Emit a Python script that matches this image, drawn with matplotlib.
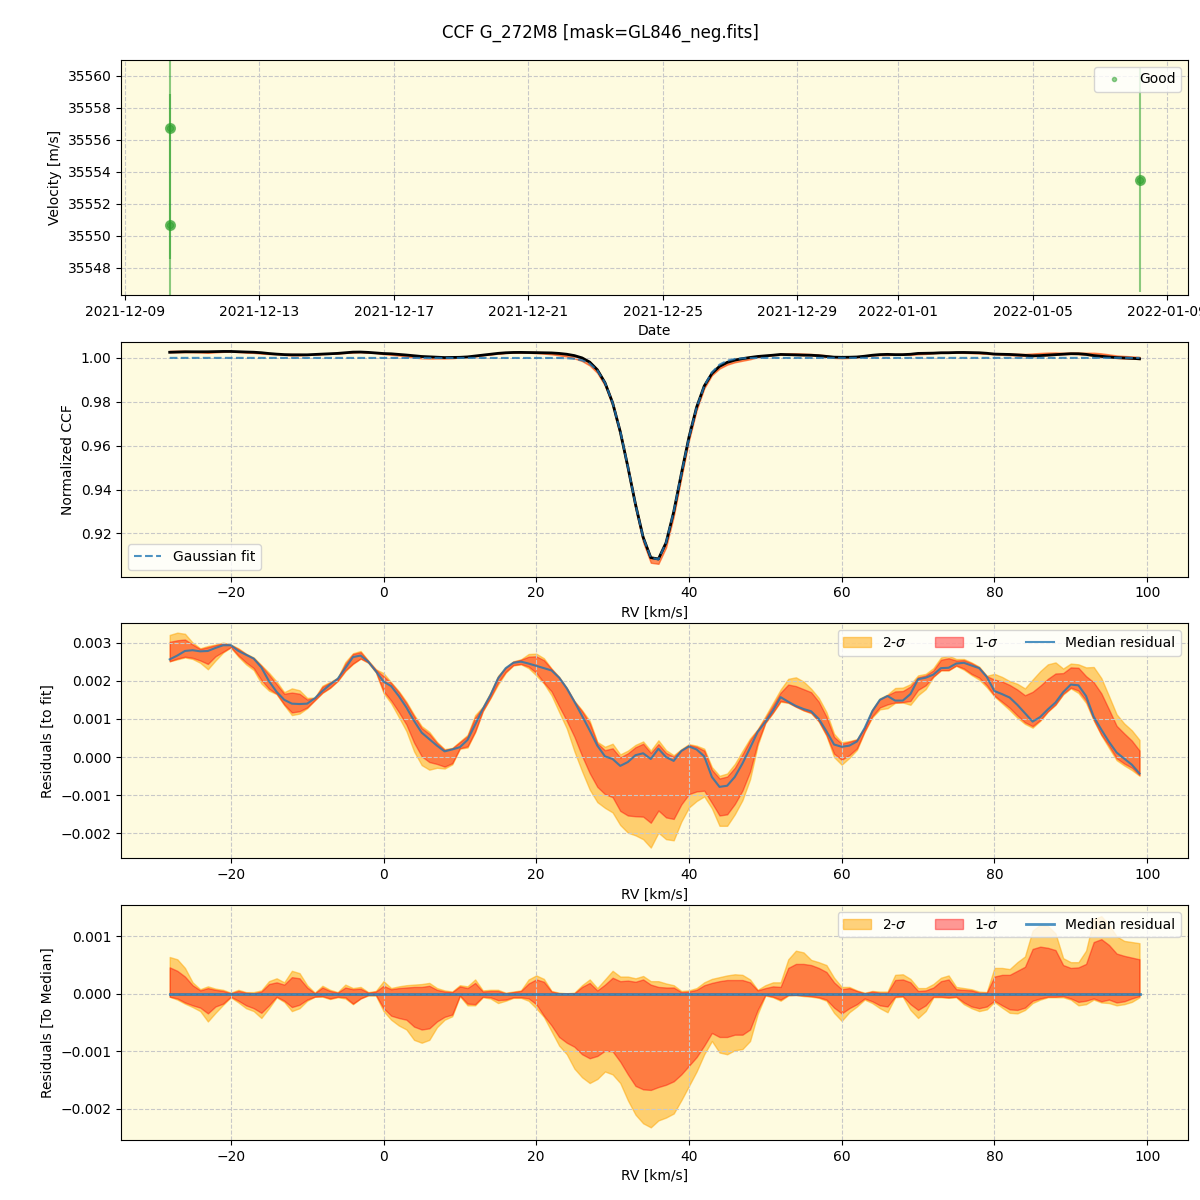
import numpy as np
import pandas as pd
import matplotlib
matplotlib.use('Agg')
import matplotlib.pyplot as plt
import matplotlib.dates as mdates

# --- top panel: RV time series
obs_dates = pd.to_datetime(['2021-12-10 08:10', '2021-12-10 08:10', '2022-01-08 04:20'])
obs_rv = [35556.75, 35550.65, 35553.5]
obs_err = [8.2, 8.2, 7.0]

# --- CCF grid and gaussian fit
rv = np.arange(-28, 100, 1.0)
fit_c, fit_depth, fit_mu, fit_sig = 0.99995, 0.0925, 35.6, 3.22

# median residual to fit (x1e-3), one value per km/s from -28 to 99
median_res = np.array([
    2.56, 2.66, 2.78, 2.80, 2.77, 2.78, 2.86, 2.93, 2.93, 2.78,
    2.68, 2.58, 2.35, 1.99, 1.71, 1.50, 1.40, 1.39, 1.40, 1.54,
    1.73, 1.90, 2.05, 2.33, 2.62, 2.66, 2.50, 2.25, 1.98, 1.86,
    1.60, 1.30, 0.95, 0.64, 0.47, 0.30, 0.15, 0.20, 0.26, 0.45,
    0.85, 1.26, 1.62, 2.06, 2.33, 2.47, 2.50, 2.45, 2.39, 2.33,
    2.27, 2.08, 1.80, 1.45, 1.08, 0.70, 0.30, 0.02, -0.05, -0.23,
    -0.13, 0.05, 0.10, -0.05, 0.22, 0.00, -0.10, 0.16, 0.28, 0.20,
    0.02, -0.52, -0.78, -0.75, -0.52, -0.17, 0.24, 0.66, 0.92, 1.22,
    1.57, 1.45, 1.34, 1.26, 1.20, 1.00, 0.68, 0.33, 0.27, 0.30,
    0.41, 0.76, 1.20, 1.50, 1.60, 1.48, 1.48, 1.65, 2.04, 2.08,
    2.16, 2.33, 2.34, 2.45, 2.47, 2.40, 2.33, 2.10, 1.73, 1.65,
    1.56, 1.37, 1.15, 0.93, 1.05, 1.25, 1.43, 1.70, 1.90, 1.88,
    1.60, 1.06, 0.72, 0.40, 0.12, -0.04, -0.20, -0.43]) * 1e-3

# band offsets relative to the median (x1e-3)
up2 = np.array([
    0.64, 0.60, 0.45, 0.20, 0.08, 0.13, 0.09, 0.07, 0.02, 0.07,
    0.03, 0.03, 0.06, 0.22, 0.27, 0.20, 0.40, 0.36, 0.15, 0.02,
    0.14, 0.07, 0.03, 0.16, 0.10, 0.12, 0.03, 0.05, 0.22, 0.10,
    0.13, 0.15, 0.16, 0.17, 0.19, 0.10, 0.06, 0.04, 0.15, 0.13,
    0.25, 0.06, 0.07, 0.07, 0.02, 0.04, 0.06, 0.25, 0.32, 0.26,
    0.05, 0.02, 0.01, 0.02, 0.15, 0.25, 0.10, 0.25, 0.40, 0.30,
    0.30, 0.27, 0.31, 0.22, 0.22, 0.18, 0.15, 0.05, 0.06, 0.10,
    0.20, 0.26, 0.29, 0.32, 0.34, 0.33, 0.25, 0.07, 0.15, 0.20,
    0.20, 0.60, 0.75, 0.72, 0.59, 0.55, 0.50, 0.28, 0.12, 0.12,
    0.06, 0.02, 0.05, 0.04, 0.04, 0.33, 0.34, 0.26, 0.10, 0.10,
    0.17, 0.28, 0.32, 0.12, 0.10, 0.08, 0.04, 0.03, 0.45, 0.45,
    0.43, 0.55, 0.65, 1.10, 1.20, 1.18, 1.05, 0.62, 0.55, 0.55,
    0.75, 1.30, 1.35, 1.20, 1.00, 0.92, 0.90, 0.88]) * 1e-3
up1 = np.array([
    0.46, 0.40, 0.30, 0.15, 0.06, 0.10, 0.07, 0.05, 0.01, 0.05,
    0.02, 0.01, 0.04, 0.17, 0.20, 0.16, 0.29, 0.27, 0.11, 0.01,
    0.11, 0.05, 0.02, 0.11, 0.08, 0.09, 0.02, 0.04, 0.14, 0.08,
    0.10, 0.11, 0.12, 0.12, 0.14, 0.07, 0.04, 0.03, 0.13, 0.10,
    0.19, 0.04, 0.05, 0.05, 0.01, 0.03, 0.05, 0.18, 0.25, 0.21,
    0.04, 0.01, 0.01, 0.01, 0.12, 0.19, 0.06, 0.16, 0.28, 0.22,
    0.23, 0.21, 0.25, 0.16, 0.12, 0.11, 0.11, 0.03, 0.04, 0.07,
    0.15, 0.19, 0.22, 0.24, 0.24, 0.24, 0.20, 0.06, 0.10, 0.13,
    0.12, 0.45, 0.52, 0.52, 0.50, 0.45, 0.38, 0.20, 0.08, 0.10,
    0.05, 0.01, 0.04, 0.02, 0.02, 0.24, 0.25, 0.20, 0.05, 0.06,
    0.11, 0.22, 0.25, 0.08, 0.07, 0.06, 0.02, 0.02, 0.30, 0.33,
    0.33, 0.40, 0.47, 0.78, 0.82, 0.80, 0.76, 0.50, 0.45, 0.46,
    0.52, 0.90, 0.95, 0.85, 0.70, 0.66, 0.63, 0.60]) * 1e-3
lo1 = np.array([
    -0.05, -0.08, -0.15, -0.20, -0.24, -0.34, -0.22, -0.17, -0.05, -0.12,
    -0.20, -0.25, -0.33, -0.20, -0.05, -0.12, -0.23, -0.19, -0.10, -0.05,
    -0.04, -0.08, -0.05, -0.06, -0.17, -0.08, -0.02, -0.02, -0.25, -0.38,
    -0.42, -0.45, -0.57, -0.62, -0.60, -0.48, -0.40, -0.36, -0.03, -0.17,
    -0.18, -0.05, -0.06, -0.11, -0.10, -0.06, -0.06, -0.08, -0.18, -0.38,
    -0.55, -0.75, -0.85, -0.92, -1.05, -1.12, -1.08, -0.99, -1.00, -1.18,
    -1.40, -1.60, -1.66, -1.67, -1.62, -1.58, -1.52, -1.40, -1.25, -1.10,
    -0.90, -0.68, -0.75, -0.75, -0.71, -0.71, -0.62, -0.28, -0.02, -0.05,
    -0.10, -0.02, -0.02, -0.03, -0.04, -0.06, -0.10, -0.24, -0.34, -0.25,
    -0.18, -0.08, -0.13, -0.20, -0.22, -0.05, -0.04, -0.18, -0.28, -0.20,
    -0.05, -0.05, -0.06, -0.05, -0.15, -0.22, -0.25, -0.22, -0.12, -0.20,
    -0.27, -0.28, -0.24, -0.12, -0.08, -0.05, -0.05, -0.04, -0.08, -0.14,
    -0.12, -0.08, -0.13, -0.10, -0.15, -0.13, -0.08, -0.04]) * 1e-3
lo2 = np.array([
    -0.05, -0.10, -0.17, -0.23, -0.30, -0.48, -0.33, -0.19, -0.06, -0.15,
    -0.25, -0.30, -0.42, -0.25, -0.06, -0.14, -0.30, -0.25, -0.12, -0.05,
    -0.05, -0.09, -0.06, -0.08, -0.18, -0.08, -0.03, -0.03, -0.30, -0.45,
    -0.55, -0.62, -0.80, -0.85, -0.80, -0.58, -0.45, -0.39, -0.04, -0.20,
    -0.20, -0.06, -0.08, -0.16, -0.12, -0.07, -0.07, -0.12, -0.25, -0.40,
    -0.65, -0.90, -1.05, -1.30, -1.45, -1.55, -1.48, -1.35, -1.40, -1.55,
    -1.85, -2.10, -2.25, -2.32, -2.20, -2.15, -2.08, -1.85, -1.60, -1.35,
    -1.05, -0.82, -1.02, -1.05, -0.98, -0.96, -0.82, -0.35, -0.03, -0.06,
    -0.12, -0.03, -0.02, -0.04, -0.05, -0.07, -0.12, -0.33, -0.47, -0.32,
    -0.22, -0.10, -0.16, -0.25, -0.32, -0.06, -0.05, -0.28, -0.42, -0.30,
    -0.06, -0.06, -0.07, -0.06, -0.18, -0.25, -0.30, -0.27, -0.14, -0.24,
    -0.33, -0.34, -0.28, -0.16, -0.10, -0.06, -0.06, -0.06, -0.10, -0.20,
    -0.18, -0.10, -0.15, -0.16, -0.20, -0.18, -0.14, -0.06]) * 1e-3

fit = fit_c - fit_depth * np.exp(-(rv - fit_mu) ** 2 / (2 * fit_sig ** 2))
ccf = fit + median_res

bg = '#fefbe0'
gridkw = dict(color='#c8c8c8', linestyle='--', linewidth=0.8)

fig, axs = plt.subplots(4, 1, figsize=(12, 12))
fig.subplots_adjust(left=0.101, right=0.99, top=0.95, bottom=0.05, hspace=0.2)
fig.suptitle('CCF G_272M8 [mask=GL846_neg.fits]', fontsize=12, y=0.98)

# 1: velocities
ax = axs[0]
ax.set_facecolor(bg)
ax.errorbar(obs_dates, obs_rv, yerr=obs_err, fmt='none',
            ecolor='tab:green', alpha=0.55, elinewidth=1.5)
ax.plot(obs_dates, obs_rv, 'o', color='tab:green', alpha=0.6, ms=7, linestyle='none')
ax.plot(obs_dates, obs_rv, 'o', color='tab:green', alpha=0.6, ms=4.5, linestyle='none')
ax.plot(obs_dates, obs_rv, 'o', color='tab:green', alpha=0.5, ms=3,
        linestyle='none', label='Good', visible=False)
ax.set_ylim(35546.3, 35561.0)
ax.xaxis.set_major_locator(mdates.DayLocator(bymonthday=[1, 5, 9, 13, 17, 21, 25, 29]))
ax.xaxis.set_major_formatter(mdates.DateFormatter('%Y-%m-%d'))
ax.set_xlabel('Date')
ax.set_ylabel('Velocity [m/s]')
ax.grid(True, **gridkw)
leg = ax.legend(loc='upper right')
for h in leg.legend_handles:
    h.set_visible(True)

# 2: CCF
ax = axs[1]
ax.set_facecolor(bg)
ax.fill_between(rv, ccf + lo2, ccf + up2, color='orangered', alpha=0.6, lw=1)
ax.plot(rv, ccf, color='black', lw=2)
ax.plot(rv, fit, '--', color='tab:blue', alpha=0.8, lw=1.5, label='Gaussian fit')
ax.set_ylim(0.9004, 1.0073)
ax.set_xlabel('RV [km/s]')
ax.set_ylabel('Normalized CCF')
ax.grid(True, **gridkw)
ax.legend(loc='lower left')

# 3: residuals to fit
ax = axs[2]
ax.set_facecolor(bg)
ax.fill_between(rv, median_res + lo2, median_res + up2, color='orange', alpha=0.5, label='2-$\\sigma$')
ax.fill_between(rv, median_res + lo1, median_res + up1, color='red', alpha=0.4, label='1-$\\sigma$')
ax.plot(rv, median_res, color='tab:blue', alpha=0.8, lw=1.5, label='Median residual')
ax.set_ylim(-0.00265, 0.0035)
ax.set_xlabel('RV [km/s]')
ax.set_ylabel('Residuals [to fit]')
ax.grid(True, **gridkw)
ax.legend(loc='upper right', ncol=3)

# 4: residuals to median
ax = axs[3]
ax.set_facecolor(bg)
ax.fill_between(rv, lo2, up2, color='orange', alpha=0.5, label='2-$\\sigma$')
ax.fill_between(rv, lo1, up1, color='red', alpha=0.4, label='1-$\\sigma$')
ax.plot(rv, np.zeros_like(rv), color='tab:blue', alpha=0.8, lw=2, label='Median residual')
ax.set_ylim(-0.00254, 0.00154)
ax.set_xlabel('RV [km/s]')
ax.set_ylabel('Residuals [To Median]')
ax.grid(True, **gridkw)
ax.legend(loc='upper right', ncol=3)

for ax in axs[1:]:
    ax.set_xlim(-34.35, 105.35)

fig.savefig('out.png', dpi=100)
